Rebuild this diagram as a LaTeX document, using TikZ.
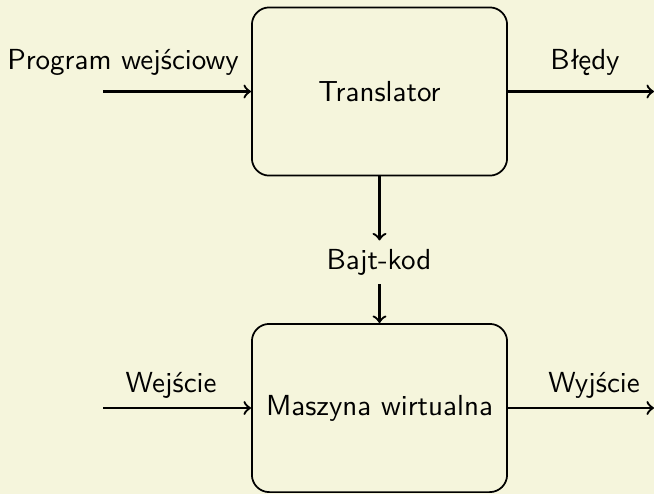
\documentclass[tikz,border=0pt]{standalone}
\usepackage{fontspec}
\definecolor{bgc}{RGB}{245,245,220}
\begin{document}
\begin{tikzpicture}[x=0.3448pt,y=-0.3448pt,
  every node/.style={font=\sffamily},
  box/.style={draw,line width=0.6pt,rounded corners=6pt,minimum width=88pt,minimum height=58pt,inner sep=0pt},
  lbl/.style={inner sep=0pt},
  conn/.style={->,line width=0.8pt}]
\fill[bgc] (0,0) rectangle (654,494);
\useasboundingbox (0,0) rectangle (654,494);
\node[box] (T) at (379.5,91.5) {Translator};
\node[box] (M) at (379.5,408) {Maszyna wirtualna};
\node[lbl] (B) at (379,262) {Bajt-kod};
\node[lbl] (PW) at (123,62) {Program wejściowy};
\node[lbl] (BL) at (585,62) {Błędy};
\node[lbl] (WE) at (171,385) {Wejście};
\node[lbl] (WY) at (594,385) {Wyjście};
\coordinate (pin) at (103,91.5);
\coordinate (bout) at (654,91.5);
\coordinate (win) at (103,408);
\coordinate (wout) at (654,408);
\draw[conn] (pin) -- (T.west |- pin);
\draw[conn] (T.east |- bout) -- (bout);
\draw[conn] (win) -- (M.west |- win);
\draw[conn] (M.east |- wout) -- (wout);
\draw[conn] (T.south) -- ++(0,64);
\draw[conn] (379.5,284) -- (M.north);
\end{tikzpicture}
\end{document}
